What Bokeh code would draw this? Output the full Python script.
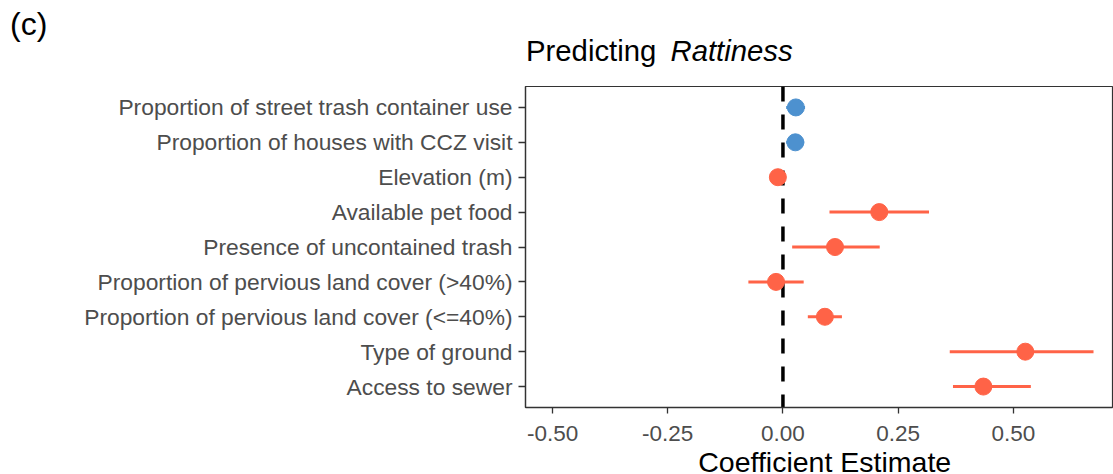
from bokeh.plotting import figure
from bokeh.models import (FactorRange, Range1d, Span, FixedTicker,
                          NumeralTickFormatter, ColumnDataSource)
from bokeh.layouts import column
from bokeh.core.properties import value
from bokeh.embed import file_html
from bokeh.resources import INLINE

# ---- data (top to bottom as shown) ----
variables = [
    "Proportion of street trash container use",
    "Proportion of houses with CCZ visit",
    "Elevation (m)",
    "Available pet food",
    "Presence of uncontained trash",
    "Proportion of pervious land cover (>40%)",
    "Proportion of pervious land cover (<=40%)",
    "Type of ground",
    "Access to sewer",
]
estimates = [0.028, 0.027, -0.011, 0.209, 0.113, -0.015, 0.091, 0.526, 0.435]
lower = [0.007, 0.007, -0.016, 0.101, 0.020, -0.075, 0.054, 0.362, 0.369]
upper = [0.048, 0.046, -0.006, 0.317, 0.210, 0.045, 0.128, 0.674, 0.538]
groups = ["blue", "blue", "red", "red", "red", "red", "red", "red", "red"]
x_ticks = [-0.50, -0.25, 0.00, 0.25, 0.50]

palette = {"blue": "#4D91CF", "red": "#FF6347"}
colors = [palette[g] for g in groups]

FONT = "Liberation Sans"
W = 1113
TOP_H = 85
MAIN_H = 1 + 321 + 44
BOT_H = 474 - TOP_H - MAIN_H
SHIFT = 10  # empirical offset of the alphabetic baseline in text glyphs


def drop_title(f):
    try:
        f.title = None
    except Exception:
        f.title.visible = False


def strip(h):
    f = figure(width=W, height=h, x_range=Range1d(0, W), y_range=Range1d(h, 0),
               output_backend="svg", toolbar_location=None,
               x_axis_location=None, y_axis_location=None,
               min_border=0, min_border_left=0, min_border_right=0,
               min_border_top=0, min_border_bottom=0, frame_align=False)
    drop_title(f)
    f.outline_line_color = None
    f.xgrid.visible = False
    f.ygrid.visible = False
    f.background_fill_color = "white"
    f.border_fill_color = "white"
    return f


# ---- top strip: panel tag and title ----
top = strip(TOP_H)
top.text(x=[9.5], y=[33.3 - SHIFT], text=["(c)"], text_font=value(FONT),
         text_font_size="32px", text_color="black",
         text_baseline="alphabetic", text_align="left")
top.text(x=[525.5], y=[60 - SHIFT], text=["Predicting "], text_font=value(FONT),
         text_font_size="29.3px", text_color="black",
         text_baseline="alphabetic", text_align="left")
top.text(x=[670], y=[60 - SHIFT], text=["Rattiness"], text_font=value(FONT),
         text_font_size="29.3px", text_color="black", text_font_style="italic",
         text_baseline="alphabetic", text_align="left")

# ---- main panel ----
src = ColumnDataSource(dict(var=variables, est=estimates, lo=lower,
                            hi=upper, color=colors))

yr = FactorRange(factors=list(reversed(variables)), range_padding=0.1,
                 range_padding_units="absolute")
p = figure(width=W, height=MAIN_H, y_range=yr,
           x_range=Range1d(-0.5587, 0.7152),
           output_backend="svg", toolbar_location=None,
           min_border_left=525, min_border_right=1,
           min_border_top=1, min_border_bottom=44, frame_align=False)
drop_title(p)

p.background_fill_color = "white"
p.border_fill_color = "white"
p.outline_line_color = "#333333"
p.outline_line_width = 1.2
p.xgrid.visible = False
p.ygrid.visible = False

vline = Span(location=0, dimension="height", line_color="black",
             line_width=3.5, line_dash="15 13", level="underlay")
p.add_layout(vline)

p.segment(x0="lo", x1="hi", y0="var", y1="var", source=src,
          line_color="color", line_width=3)
p.scatter(x="est", y="var", source=src, size=17, fill_color="color",
          line_color="color")

for ax in (p.xaxis[0], p.yaxis[0]):
    ax.axis_line_color = "#333333"
    ax.axis_line_width = 1.3
    ax.major_tick_line_color = "#333333"
    ax.major_tick_line_width = 1.3
    ax.major_tick_in = 0
    ax.minor_tick_line_color = None
    ax.major_label_text_font = FONT
    ax.major_label_text_color = "#4D4D4D"

p.xaxis.ticker = FixedTicker(ticks=x_ticks)
p.xaxis.formatter = NumeralTickFormatter(format="0.00")
p.xaxis.major_tick_out = 6
p.xaxis.major_label_standoff = 12
p.xaxis.major_label_text_font_size = "22.5px"
p.yaxis.major_tick_out = 7
p.yaxis.major_label_standoff = 6
p.yaxis.major_label_text_font_size = "22.8px"

# ---- bottom strip: x-axis title ----
bot = strip(BOT_H)
bot.text(x=[824.2], y=[20 - SHIFT], text=["Coefficient Estimate"],
         text_font=value(FONT), text_font_size="28.5px", text_color="black",
         text_baseline="alphabetic", text_align="center")

layout = column(top, p, bot, spacing=0)
open("out.html", "w").write(file_html(layout, INLINE))
